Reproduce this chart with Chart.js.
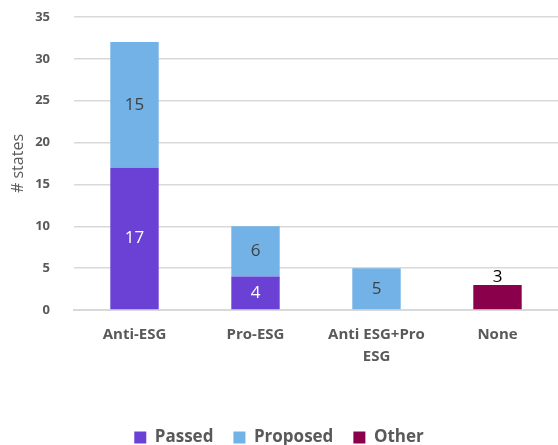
<!DOCTYPE html>
<html>
<head>
<meta charset="utf-8">
<script src="https://cdn.jsdelivr.net/npm/chart.js@4"></script>
<style>
  html, body { margin: 0; padding: 0; background: #fff; }
  #wrap { width: 558px; height: 445px; position: relative; }
</style>
</head>
<body>
<div id="wrap"><canvas id="esgChart"></canvas></div>
<script>
// data
const categories = ['Anti-ESG', 'Pro-ESG', ['Anti ESG+Pro', 'ESG'], 'None'];
const passed = [17, 4, 0, 0];
const proposed = [15, 6, 5, 0];
const other = [0, 0, 0, 3];
const yTicks = [0, 5, 10, 15, 20, 25, 30, 35];

const FONT = '"Open Sans", "Noto Sans", sans-serif';
const GREY = '#595959';

// draws the numbers on / above the bars
const barLabels = {
    id: 'barLabels',
    afterDatasetsDraw(chart) {
        const ctx = chart.ctx;
        ctx.save();
        ctx.font = '17px ' + FONT;
        ctx.textAlign = 'center';
        chart.data.datasets.forEach((ds, i) => {
            const meta = chart.getDatasetMeta(i);
            meta.data.forEach((bar, j) => {
                const v = ds.data[j];
                if (!v) return;
                if (ds.label === 'Other') {
                    ctx.fillStyle = '#000';
                    ctx.textBaseline = 'alphabetic';
                    ctx.fillText(v, bar.x, bar.y - 3);
                } else {
                    ctx.fillStyle = ds.label === 'Passed' ? '#fff' : '#404040';
                    ctx.textBaseline = 'middle';
                    ctx.fillText(v, bar.x, (bar.y + bar.base) / 2);
                }
            });
        });
        ctx.restore();
    }
};

new Chart(document.getElementById('esgChart'), {
    type: 'bar',
    data: {
        labels: categories,
        datasets: [
            { label: 'Passed', data: passed, backgroundColor: '#6A40D5' },
            { label: 'Proposed', data: proposed, backgroundColor: '#73B2E6' },
            { label: 'Other', data: other, backgroundColor: '#8A004B' }
        ]
    },
    options: {
        responsive: true,
        maintainAspectRatio: false,
        animation: false,
        layout: { padding: { top: 0, right: 0, left: 0, bottom: -11 } },
        datasets: {
            bar: { categoryPercentage: 1, barPercentage: 0.4 }
        },
        plugins: {
            legend: {
                position: 'bottom',
                labels: {
                    color: GREY,
                    font: { family: FONT, size: 17, weight: 'bold' },
                    boxWidth: 12,
                    boxHeight: 12,
                    padding: 20
                }
            },
            tooltip: { enabled: false }
        },
        scales: {
            x: {
                stacked: true,
                grid: { display: false },
                border: { color: '#d9d9d9', width: 2 },
                ticks: {
                    color: GREY,
                    font: { family: FONT, size: 15, weight: 'bold', lineHeight: 1.5 },
                    padding: 5,
                    maxRotation: 0
                },
                afterFit(scale) { scale.height = 99; }
            },
            y: {
                stacked: true,
                min: 0,
                max: 35,
                afterBuildTicks(scale) { scale.ticks = yTicks.map(v => ({ value: v })); },
                afterFit(scale) {
                    scale.width = 74;
                    scale.paddingTop = 17;
                    scale.paddingBottom = 4;
                },
                grid: { color: '#d9d9d9', lineWidth: 1.5, drawTicks: false },
                border: { display: false },
                ticks: {
                    color: GREY,
                    font: { family: FONT, size: 13, weight: 'bold' },
                    padding: 24
                },
                title: {
                    display: true,
                    text: '# states',
                    color: GREY,
                    font: { family: FONT, size: 16 },
                    padding: { top: 9, bottom: 0 }
                }
            }
        }
    },
    plugins: [barLabels]
});
</script>
</body>
</html>
